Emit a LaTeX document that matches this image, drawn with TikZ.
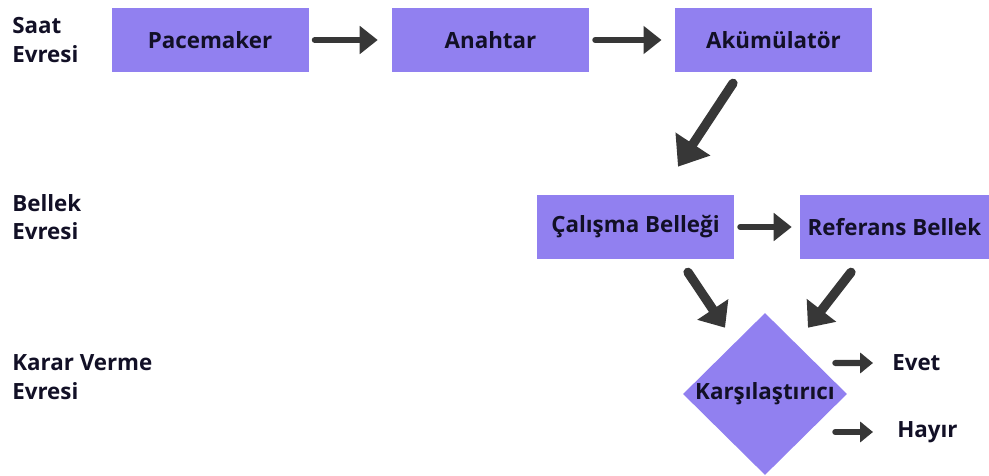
\documentclass[tikz,border=0pt]{standalone}
\usepackage{fontspec}
\setmainfont{Open Sans}
\usetikzlibrary{shapes.geometric,arrows.meta}

\definecolor{boxfill}{RGB}{145,128,240}
\definecolor{arrowgray}{RGB}{55,55,55}
\definecolor{textdark}{RGB}{18,16,38}

\begin{document}
\begin{tikzpicture}[
  font=\fontsize{15.9}{20.3}\selectfont\bfseries, text=textdark,
  box/.style={fill=boxfill, minimum width=4.925cm, minimum height=1.6cm, inner sep=0pt},
  dec/.style={diamond, fill=boxfill, minimum width=4.1cm, minimum height=4.05cm, inner sep=0pt},
  phase/.style={anchor=west, align=left, inner sep=0pt},
  arr/.style={draw=arrowgray, line width=4.3pt, line cap=round,
    -{Triangle[length=0.45cm, width=0.68cm]}},
  sarr/.style={draw=arrowgray, line width=4.3pt, line cap=round,
    -{Triangle[length=0.32cm, width=0.5cm]}},
  bigarr/.style={draw=arrowgray, line width=6.6pt, line cap=round,
    -{Triangle[length=0.68cm, width=1.0cm]}},
  midarr/.style={draw=arrowgray, line width=6.6pt, line cap=round,
    -{Triangle[length=0.55cm, width=0.9cm]}}]

\useasboundingbox (0,0) rectangle (24.725,-11.9);

% ---------- Phase labels ----------
\node[phase] (saat) at (0.3,-1.0) {Saat\\Evresi};
\node[phase] (bellek) at (0.3,-5.43) {Bellek\\Evresi};
\node[phase] (karar) at (0.3,-9.43) {Karar Verme\\Evresi};

% ---------- Clock phase ----------
\node[box] (pace) at (5.25,-1.0) {Pacemaker};
\node[box] (anahtar) at (12.2625,-1.0) {Anahtar};
\node[box] (akum) at (19.3375,-1.0) {Akümülatör};

\draw[arr, shorten <=0.15cm, shorten >=0.35cm] (pace) -- (anahtar);
\draw[arr, shorten <=0.15cm, shorten >=0.33cm] (anahtar) -- (akum);

% ---------- Memory phase ----------
\node[box] (calisma) at (15.8875,-5.675) {Çalışma Belleği};
\node[box, minimum width=4.725cm] (referans) at (22.3625,-5.675) {Referans Bellek};

\draw[bigarr] ([shift={(-1.0125,-0.275)}]akum.south) -- ([shift={(1.0625,0.7)}]calisma.north);
\draw[arr, shorten <=0.15cm, shorten >=0.2cm] (calisma) -- (referans);

% ---------- Decision phase ----------
\node[dec] (karsi) at (19.125,-9.85) {Karşılaştırıcı};
\node[anchor=west, inner sep=0pt] (evet) at (22.3,-9.075) {Evet};
\node[anchor=west, inner sep=0pt] (hayir) at (22.425,-10.8) {Hayır};

\draw[midarr] ([shift={(1.3125,-0.325)}]calisma.south) -- ([shift={(-1.0,-0.375)}]karsi.north);
\draw[midarr] ([shift={(-1.0875,-0.325)}]referans.south) -- ([shift={(1.075,-0.375)}]karsi.north);

\draw[sarr, shorten >=0.475cm] ([shift={(-0.3,0.775)}]karsi.east) -- (evet.west);
\draw[sarr, shorten >=0.6cm] ([shift={(-0.3,-0.95)}]karsi.east) -- (hayir.west);

\end{tikzpicture}
\end{document}
